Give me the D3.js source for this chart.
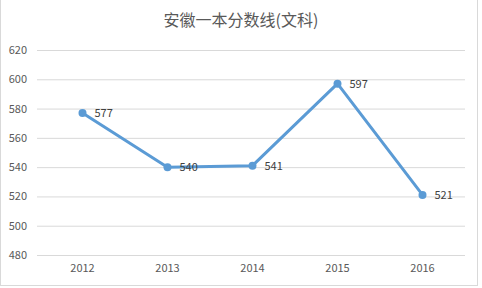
<!DOCTYPE html>
<html>
<head>
<meta charset="utf-8">
<script src="https://cdn.jsdelivr.net/npm/d3@7/dist/d3.min.js"></script>
<style>
  body { margin: 0; background: #fff; }
  text { font-family: "Noto Sans CJK SC", "Open Sans", sans-serif; }
</style>
</head>
<body>
<svg id="chart" width="482" height="288"></svg>
<script>
// chart values
var years = ["2012", "2013", "2014", "2015", "2016"];
var scores = [577, 540, 541, 597, 521];
var yTicks = [480, 500, 520, 540, 560, 580, 600, 620];
var title = "安徽一本分数线(文科)";

var svg = d3.select("#chart");
var width = +svg.attr("width");
var height = +svg.attr("height");
var padding = {t: 50, r: 17, b: 33, l: 40};

// light frame like the spreadsheet chart area
svg.append("rect")
    .attr("x", 0.5).attr("y", -1)
    .attr("width", width - 5).attr("height", height - 1.5)
    .attr("fill", "none")
    .attr("stroke", "#d9d9d9");

var x = d3.scaleBand()
    .domain(years)
    .range([padding.l, width - padding.r]);

var y = d3.scaleLinear()
    .domain([480, 620])
    .range([height - padding.b, padding.t]);

// gridlines + y labels
var yAxis = d3.axisLeft(y)
    .tickValues(yTicks)
    .tickSize(-(width - padding.l - padding.r))
    .tickPadding(10);

var gy = svg.append("g")
    .attr("transform", "translate(" + (padding.l - 3) + ",0)")
    .call(yAxis);
gy.select(".domain").remove();
gy.selectAll(".tick line").attr("stroke", "#d9d9d9").attr("x1", 0).attr("x2", width - padding.l - padding.r + 3);
gy.selectAll(".tick text")
    .attr("fill", "#595959")
    .attr("font-size", 11)
    .attr("x", -10);

// x labels
var xAxis = d3.axisBottom(x).tickSize(0).tickPadding(9);
var gx = svg.append("g")
    .attr("transform", "translate(0," + (height - padding.b) + ")")
    .call(xAxis);
gx.select(".domain").remove();
gx.selectAll(".tick text")
    .attr("fill", "#595959")
    .attr("font-size", 11);

// title
svg.append("text")
    .attr("x", width / 2)
    .attr("y", 26)
    .attr("text-anchor", "middle")
    .attr("fill", "#595959")
    .attr("font-size", 16)
    .text(title);

var pts = years.map(function(d, i) { return {year: d, v: scores[i]}; });

var line = d3.line()
    .x(function(d) { return x(d.year) + x.bandwidth() / 2; })
    .y(function(d) { return y(d.v); });

svg.append("path")
    .datum(pts)
    .attr("d", line)
    .attr("fill", "none")
    .attr("stroke", "#5B9BD5")
    .attr("stroke-width", 3)
    .attr("stroke-linejoin", "round");

svg.selectAll(".dot")
    .data(pts)
    .enter().append("circle")
    .attr("class", "dot")
    .attr("cx", function(d) { return x(d.year) + x.bandwidth() / 2; })
    .attr("cy", function(d) { return y(d.v); })
    .attr("r", 4)
    .attr("fill", "#5B9BD5");

svg.selectAll(".lbl")
    .data(pts)
    .enter().append("text")
    .attr("class", "lbl")
    .attr("x", function(d) { return x(d.year) + x.bandwidth() / 2 + 12; })
    .attr("y", function(d) { return y(d.v); })
    .attr("dy", "0.35em")
    .attr("fill", "#404040")
    .attr("font-size", 11)
    .text(function(d) { return d.v; });
</script>
</body>
</html>
